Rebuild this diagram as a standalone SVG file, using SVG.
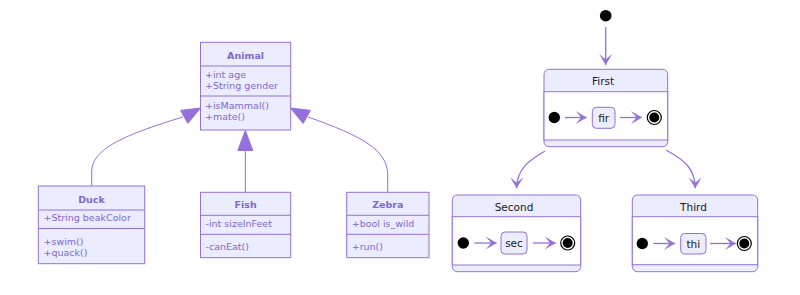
<svg xmlns="http://www.w3.org/2000/svg" width="800" height="295" viewBox="0 0 800 295">
<defs>
<style>
.cls rect{fill:#ECECFF;stroke:#9370DB;stroke-width:1}
.cls line{stroke:#9370DB;stroke-width:1}
.ct{font-family:"DejaVu Sans",Verdana,sans-serif;font-size:9.5px;fill:#8069CC}
.ctt{font-family:"DejaVu Sans",Verdana,sans-serif;font-size:9.5px;font-weight:bold;fill:#8069CC;text-anchor:middle}
.edge{fill:none;stroke:#9370DB;stroke-width:1}
.tri{fill:#9370DB;stroke:#9370DB;stroke-width:1}
.st{font-family:"DejaVu Sans",Verdana,sans-serif;font-size:10.5px;fill:#1a1a1a;text-anchor:middle}
.outer{fill:#ECECFF;stroke:#9370DB;stroke-width:1}
.body{fill:#fff;stroke:#9370DB;stroke-width:1}
.inner{fill:#ECECFF;stroke:#9370DB;stroke-width:1}
.start{fill:#000}
.endo{fill:#fff;stroke:#000;stroke-width:1.2}
.endi{fill:#000}
.tr{fill:none;stroke:#9370DB;stroke-width:1.3}
</style>
<marker id="barb" markerUnits="userSpaceOnUse" markerWidth="14" markerHeight="16" viewBox="-12 -8 14 16" refX="0" refY="0" orient="auto">
<path d="M0,0 L-11,-6.5 L-5.5,0 L-11,6.5 Z" fill="#9370DB"/>
</marker>
</defs>
<rect width="800" height="295" fill="#fff"/>

<g id="Animal" class="cls">
<rect x="200.5" y="42.3" width="90.2" height="87.7"/>
<line x1="200.5" y1="66" x2="290.7" y2="66"/>
<line x1="200.5" y1="96" x2="290.7" y2="96"/>
<text class="ctt" x="245.6" y="58.5">Animal</text>
<text class="ct" x="205" y="77.5">+int age</text>
<text class="ct" x="205" y="88.5">+String gender</text>
<text class="ct" x="205" y="108.5">+isMammal()</text>
<text class="ct" x="205" y="120">+mate()</text>
</g>

<g id="Duck" class="cls">
<rect x="38.3" y="186" width="106.4" height="77.7"/>
<line x1="38.3" y1="210" x2="144.7" y2="210"/>
<line x1="38.3" y1="228.5" x2="144.7" y2="228.5"/>
<text class="ctt" x="91.5" y="202.5">Duck</text>
<text class="ct" x="43.5" y="220.5">+String beakColor</text>
<text class="ct" x="43.5" y="244.5">+swim()</text>
<text class="ct" x="43.5" y="255.5">+quack()</text>
</g>

<g id="Fish" class="cls">
<rect x="200.5" y="192.3" width="90.2" height="65.4"/>
<line x1="200.5" y1="215.3" x2="290.7" y2="215.3"/>
<line x1="200.5" y1="234.3" x2="290.7" y2="234.3"/>
<text class="ctt" x="245.6" y="208">Fish</text>
<text class="ct" x="205.5" y="226.5">-int sizeInFeet</text>
<text class="ct" x="205.5" y="250">-canEat()</text>
</g>

<g id="Zebra" class="cls">
<rect x="346.7" y="192.3" width="82.3" height="65.4"/>
<line x1="346.7" y1="215.3" x2="429" y2="215.3"/>
<line x1="346.7" y1="234.3" x2="429" y2="234.3"/>
<text class="ctt" x="387.8" y="208">Zebra</text>
<text class="ct" x="351.7" y="226.5">+bool is_wild</text>
<text class="ct" x="351.7" y="250">+run()</text>
</g>

<g id="start">
<circle class="start" cx="605.7" cy="15.7" r="5.8"/>
</g>

<g id="First">
<rect class="outer" x="544" y="69.3" width="123.7" height="77.4" rx="5"/>
<rect class="body" x="544" y="91.7" width="123.7" height="48.3"/>
<text class="st" x="603" y="84.5">First</text>
<circle class="start" cx="554.3" cy="117.5" r="5.7"/>
<rect class="inner" x="592.3" y="107.3" width="22.7" height="21" rx="4"/>
<text class="st" x="603.7" y="121.5">fir</text>
<circle class="endo" cx="654.3" cy="117.5" r="7"/>
<circle class="endi" cx="654.3" cy="117.5" r="5"/>
</g>

<g id="Second">
<rect class="outer" x="452.3" y="195" width="128.4" height="76.7" rx="5"/>
<rect class="body" x="452.3" y="216.7" width="128.4" height="48.3"/>
<text class="st" x="514" y="211">Second</text>
<circle class="start" cx="463.3" cy="243" r="5.7"/>
<rect class="inner" x="501" y="232" width="26" height="22" rx="4"/>
<text class="st" x="514" y="247">sec</text>
<circle class="endo" cx="567.7" cy="243" r="7"/>
<circle class="endi" cx="567.7" cy="243" r="5"/>
</g>

<g id="Third">
<rect class="outer" x="632.3" y="195" width="125.4" height="76.7" rx="5"/>
<rect class="body" x="632.3" y="216.7" width="125.4" height="48"/>
<text class="st" x="693.5" y="211">Third</text>
<circle class="start" cx="642.3" cy="243.5" r="5.7"/>
<rect class="inner" x="680.7" y="233.5" width="25.3" height="20.5" rx="4"/>
<text class="st" x="693.3" y="247.5">thi</text>
<circle class="endo" cx="744.3" cy="243.5" r="7"/>
<circle class="endi" cx="744.3" cy="243.5" r="5"/>
</g>

<g id="edges">
<path class="edge" d="M91.7,186 L91.7,172 C91.7,150 120,136 183,117"/>
<polygon class="tri" points="200.5,108 180.6,110.4 187.9,123.4"/>
<path class="edge" d="M245.3,192.3 L245.3,150"/>
<polygon class="tri" points="245.3,130.5 237.8,150.5 252.8,150.5"/>
<path class="edge" d="M387.7,192.3 L387.7,175 C387.7,150 362,136 308,117"/>
<polygon class="tri" points="290.5,108 310.4,110.4 303.1,123.4"/>

<path class="tr" d="M605.7,27 L605.7,65" marker-end="url(#barb)"/>
<path class="tr" d="M545,151 C530,160 517,168 516.6,188.3" marker-end="url(#barb)"/>
<path class="tr" d="M666,150 C684,160 695,168 695.3,188.3" marker-end="url(#barb)"/>
<path class="tr" d="M565,117.5 L586.7,117.5" marker-end="url(#barb)"/>
<path class="tr" d="M620,117.5 L642,117.5" marker-end="url(#barb)"/>
<path class="tr" d="M474.3,243 L496.7,243" marker-end="url(#barb)"/>
<path class="tr" d="M533,243 L555.7,243" marker-end="url(#barb)"/>
<path class="tr" d="M653.3,243.5 L675,243.5" marker-end="url(#barb)"/>
<path class="tr" d="M710,243.5 L736,243.5" marker-end="url(#barb)"/>
</g>
</svg>
